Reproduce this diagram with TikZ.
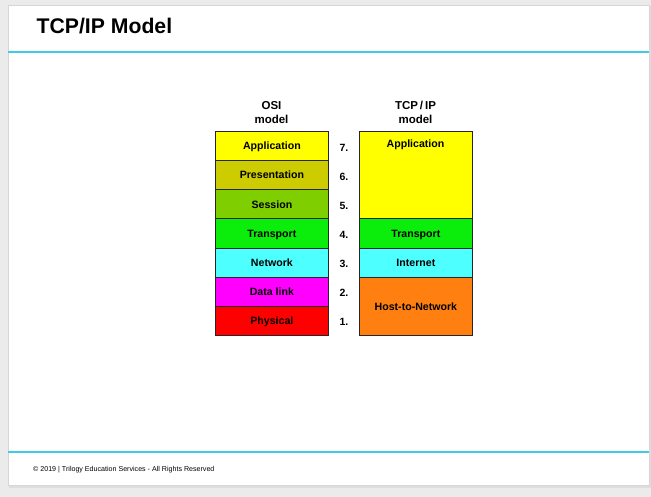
\documentclass[tikz,border=0pt]{standalone}
\usepackage{fontspec}
\setmainfont{Liberation Sans}
\begin{document}
\begin{tikzpicture}[x=1pt,y=-1pt,
  layer/.style={draw=black!85, line width=0.8pt, rectangle, inner sep=0pt,
    minimum width=113pt, anchor=north west, text height=7.6pt, text depth=0pt,
    font=\bfseries\fontsize{10.6}{12}\selectfont},
  head/.style={font=\bfseries\fontsize{11.5}{14}\selectfont, align=center, inner sep=0pt},
  num/.style={font=\bfseries\fontsize{10.5}{12}\selectfont, inner sep=0pt},
  rule/.style={draw=ruleblue}]
\definecolor{ruleblue}{HTML}{3FCBE8}
\definecolor{cApp}{HTML}{FFFF00}
\definecolor{cPres}{HTML}{CCCC00}
\definecolor{cSess}{HTML}{7FCF00}
\definecolor{cTrans}{HTML}{0BEE0B}
\definecolor{cNet}{HTML}{4DFFFF}
\definecolor{cLink}{HTML}{FF00FF}
\definecolor{cPhys}{HTML}{FF0000}
\definecolor{cHost}{HTML}{FF7F10}

% page background and slide
\fill[black!8] (0,0) rectangle (651,497);
\fill[black!13] (9,6) rectangle (651,488);
\fill[white] (8,5) rectangle (649,485);
\draw[black!16, line width=0.5pt] (8,5) rectangle (649,485);

% title and rules
\node[anchor=base west, inner sep=0pt, font=\bfseries\fontsize{21.2}{25}\selectfont] (title) at (36.5,33.3) {TCP/IP Model};
\coordinate (tl) at (8,52);
\coordinate (tr) at (649,52);
\draw[rule, line width=1.4pt] (tl) -- (tr);
\coordinate (bl) at (8,452);
\coordinate (br) at (649,452);
\draw[rule, line width=2pt] (bl) -- (br);
\node[anchor=base west, inner sep=0pt, font=\fontsize{7.1}{8}\selectfont] (footer) at (33,471.5)
  {\textcopyright{} 2019 | Trilogy Education Services - All Rights Reserved};

% column headers
\node[head] (osihead) at (271.5,112.5) {OSI\\model};
\node[head] (tcphead) at (415.5,112.5) {TCP\,/\,IP\\model};

% OSI layers
\node[layer, fill=cApp,   minimum height=29.14pt] (oapp)   at (215,131)    {Application};
\node[layer, fill=cPres,  minimum height=29.14pt] (opres)  at (215,160.14) {Presentation};
\node[layer, fill=cSess,  minimum height=29.14pt] (osess)  at (215,189.29) {Session};
\node[layer, fill=cTrans, minimum height=29.14pt] (otrans) at (215,218.43) {Transport};
\node[layer, fill=cNet,   minimum height=29.14pt] (onet)   at (215,247.57) {Network};
\node[layer, fill=cLink,  minimum height=29.14pt] (olink)  at (215,276.71) {Data link};
\node[layer, fill=cPhys,  minimum height=29.14pt] (ophys)  at (215,305.86) {Physical};

% TCP/IP layers
\node[layer, fill=cApp,   minimum height=87.43pt] (tapp)   at (359,131)    {};
\node[font=\bfseries\fontsize{10.6}{12}\selectfont, inner sep=0pt, text height=7.6pt, text depth=0pt] (tappl) at (415.5,144) {Application};
\node[layer, fill=cTrans, minimum height=29.14pt] (ttrans) at (359,218.43) {Transport};
\node[layer, fill=cNet,   minimum height=29.14pt] (tnet)   at (359,247.57) {Internet};
\node[layer, fill=cHost,  minimum height=58.29pt] (thost)  at (359,276.71) {Host-to-Network};

% layer numbers
\node[num] (n7) at (344,148) {7.};
\node[num] (n6) at (344,176.5) {6.};
\node[num] (n5) at (344,206) {5.};
\node[num] (n4) at (344,234.5) {4.};
\node[num] (n3) at (344,263.5) {3.};
\node[num] (n2) at (344,292.5) {2.};
\node[num] (n1) at (344,321.5) {1.};
\end{tikzpicture}
\end{document}
